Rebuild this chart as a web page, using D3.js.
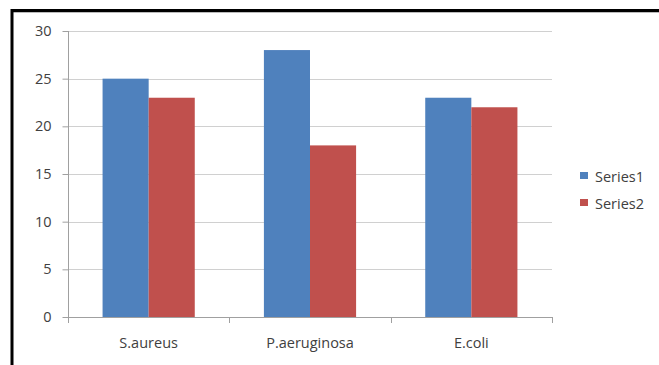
<!DOCTYPE html>
<html>
<head>
<meta charset="utf-8">
<script src="https://cdn.jsdelivr.net/npm/d3@7"></script>
<style>
  html, body { margin: 0; padding: 0; background: #fff; }
  svg { display: block; }
  text { font-family: "Open Sans", "Liberation Sans", sans-serif; fill: #404040; }
</style>
</head>
<body>
<svg id="chart" width="659" height="365"></svg>
<script>
// Inhibition values per organism
const categories = ["S.aureus", "P.aeruginosa", "E.coli"];
const seriesNames = ["Series1", "Series2"];
const series1 = [25, 28, 23];
const series2 = [23, 18, 22];
const yTicks = [0, 5, 10, 15, 20, 25, 30];
const colors = ["#4f81bd", "#c0504d"];

const svg = d3.select("#chart");
const W = 659, H = 365;
const plot = { left: 68, right: 552, top: 31, bottom: 317 };
const fontSize = 14.5;

// Frame around the chart
svg.append("line").attr("x1", 12).attr("x2", W).attr("y1", 10.5).attr("y2", 10.5)
  .attr("stroke", "#000").attr("stroke-width", 3);
svg.append("line").attr("x1", 12).attr("x2", W).attr("y1", 12.5).attr("y2", 12.5)
  .attr("stroke", "#bbb").attr("stroke-width", 1);
svg.append("line").attr("x1", 12).attr("x2", 12).attr("y1", 9).attr("y2", H)
  .attr("stroke", "#000").attr("stroke-width", 3);

const x = d3.scaleBand().domain(categories).range([plot.left, plot.right]).paddingInner(0).paddingOuter(0);
const y = d3.scaleLinear().domain([0, 30]).range([plot.bottom, plot.top]);

// Gridlines
svg.append("g").selectAll("line").data(yTicks.filter(d => d > 0)).join("line")
  .attr("x1", plot.left).attr("x2", plot.right)
  .attr("y1", d => Math.round(y(d)) + 0.5).attr("y2", d => Math.round(y(d)) + 0.5)
  .attr("stroke", "#d0d0d0").attr("stroke-width", 1);

// Bars: two per category, Excel-style gap width 150%
const bw = x.bandwidth() / 3.5;
const data = categories.map((c, i) => ({ c, vals: [series1[i], series2[i]] }));
const groups = svg.append("g").selectAll("g").data(data).join("g");
groups.selectAll("rect").data(d => d.vals.map((v, k) => ({ c: d.c, v, k }))).join("rect")
  .attr("x", d => x(d.c) + bw * 0.75 + d.k * bw)
  .attr("y", d => y(d.v))
  .attr("width", bw)
  .attr("height", d => y(0) - y(d.v))
  .attr("fill", d => colors[d.k]);

// Y axis
const yAxis = d3.axisLeft(y).tickValues(yTicks).tickSize(6).tickPadding(11).tickFormat(d3.format("d"));
const gy = svg.append("g").attr("transform", `translate(${plot.left + 0.5},0)`).call(yAxis);
gy.select(".domain").attr("stroke", "#a0a0a0").attr("d", `M0,${plot.top}V${plot.bottom}`);
gy.selectAll(".tick line").attr("stroke", "#a0a0a0");
gy.selectAll(".tick text").attr("font-size", fontSize).attr("fill", "#404040")
  .style("font-family", "'Open Sans', sans-serif");

// X axis with ticks at category boundaries
svg.append("line").attr("x1", plot.left).attr("x2", plot.right)
  .attr("y1", plot.bottom + 0.5).attr("y2", plot.bottom + 0.5).attr("stroke", "#a0a0a0");
const bounds = categories.map(c => x(c)).concat([plot.right]);
svg.append("g").selectAll("line").data(bounds).join("line")
  .attr("x1", d => Math.round(d) + 0.5).attr("x2", d => Math.round(d) + 0.5)
  .attr("y1", plot.bottom).attr("y2", plot.bottom + 6).attr("stroke", "#a0a0a0");
svg.append("g").selectAll("text").data(categories).join("text")
  .attr("x", d => x(d) + x.bandwidth() / 2)
  .attr("y", 348)
  .attr("text-anchor", "middle")
  .attr("font-size", fontSize)
  .text(d => d);

// Legend
const legend = svg.append("g").selectAll("g").data(seriesNames).join("g")
  .attr("transform", (d, i) => `translate(580,${172 + i * 27})`);
legend.append("rect").attr("width", 8).attr("height", 7).attr("fill", (d, i) => colors[i]);
legend.append("text").attr("x", 15).attr("y", 9.5).attr("font-size", fontSize).text(d => d);
</script>
</body>
</html>
